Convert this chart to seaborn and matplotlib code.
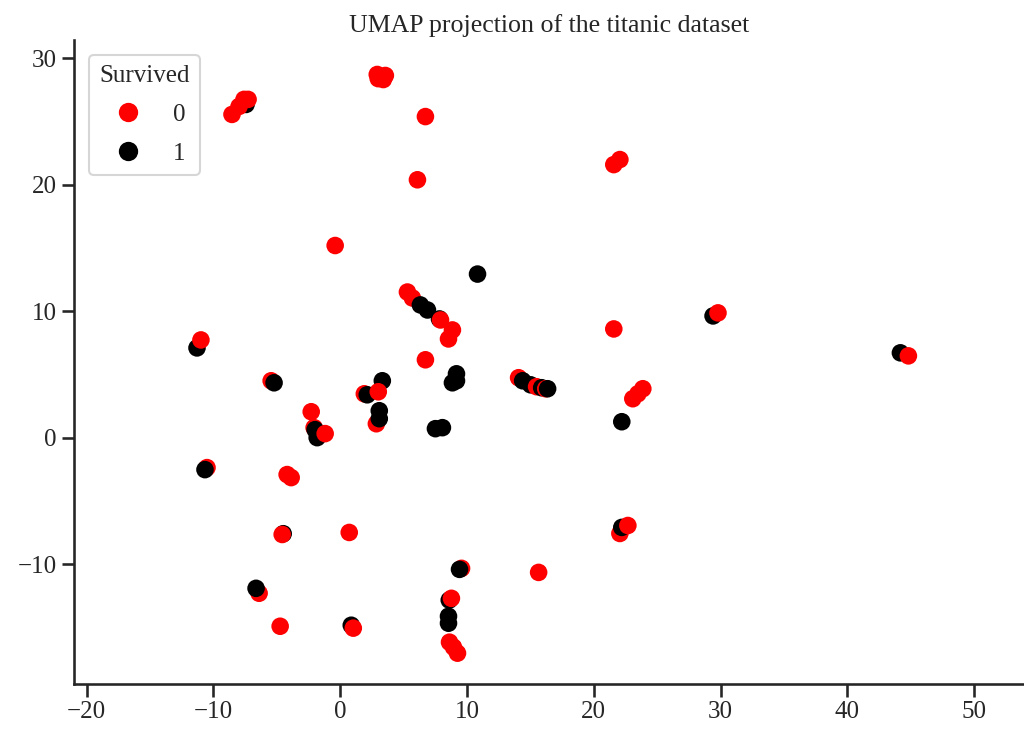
import pandas as pd
import matplotlib.pyplot as plt
import seaborn as sns

sns.set_theme(style='ticks', context='talk')
plt.rcParams['font.family'] = ['Liberation Serif', 'DejaVu Serif']

# =====================================================
# DATA
# =====================================================
umap_x = [
    -8.54, -7.43, -7.98, -7.59, -7.27,
    2.92, 3.56, 3.40, 3.00,
    6.72, 6.09, 21.58, 22.06, -0.40, 10.83,
    5.30, 5.69, 6.32, 6.88, 7.83, 7.91, 8.85, 8.54, 6.72,
    9.17, 8.85, 9.17, 8.06, 7.51,
    14.07, 14.39, 15.02, 15.49, 15.89, 16.21, 16.36,
    21.58, 23.87, 23.48, 23.08, 22.21,
    29.41, 29.80, 44.19, 44.82,
    -11.30, -10.99, -5.45, -5.22,
    -2.29, -2.06, -1.98, -1.82, -1.19,
    1.90, 2.13, 3.32, 3.00, 2.85, 3.08, 3.08,
    -10.51, -10.67, -3.87, -4.19,
    -4.50, -4.58, 0.71,
    -6.40, -6.64, -4.74,
    0.87, 1.03,
    9.57, 9.41, 15.65,
    8.60, 8.77, 8.54, 8.54,
    8.62, 8.93, 9.25,
    22.06, 22.21, 22.69,
]
umap_y = [
    25.57, 26.36, 26.20, 26.76, 26.76,
    28.73, 28.65, 28.33, 28.40,
    25.40, 20.40, 21.60, 22.00, 15.20, 12.94,
    11.52, 11.05, 10.50, 10.10, 9.39, 9.31, 8.52, 7.81, 6.16,
    5.05, 4.34, 4.50, 0.79, 0.71,
    4.74, 4.50, 4.18, 4.03, 3.95, 3.87, 3.87,
    8.60, 3.87, 3.47, 3.08, 1.26,
    9.63, 9.87, 6.71, 6.47,
    7.10, 7.73, 4.50, 4.34,
    2.05, 0.79, 0.63, 0.00, 0.32,
    3.47, 3.39, 4.50, 3.63, 1.10, 2.13, 1.50,
    -2.37, -2.53, -3.16, -2.92,
    -7.60, -7.66, -7.50,
    -12.31, -11.92, -14.92,
    -14.84, -15.07,
    -10.34, -10.42, -10.66,
    -12.85, -12.71, -14.13, -14.68,
    -16.18, -16.57, -17.05,
    -7.58, -7.10, -6.95,
]
survived = [
    0, 1, 0, 0, 0,
    0, 0, 0, 0,
    0, 0, 0, 0, 0, 1,
    0, 0, 1, 1, 1, 0, 0, 0, 0,
    1, 1, 1, 1, 1,
    0, 1, 1, 0, 1, 0, 1,
    0, 0, 0, 0, 1,
    1, 0, 1, 0,
    1, 0, 0, 1,
    0, 0, 1, 1, 0,
    0, 1, 1, 0, 0, 1, 1,
    0, 1, 0, 0,
    1, 0, 0,
    0, 1, 0,
    1, 0,
    0, 1, 0,
    1, 0, 1, 1,
    0, 0, 0,
    0, 1, 0,
]

umap_df = pd.DataFrame({'x': umap_x, 'y': umap_y, 'Survived': survived})

# =====================================================
# CHART
# =====================================================
fig, ax = plt.subplots(figsize=(10.24, 7.29), dpi=100)
fig.subplots_adjust(left=0.0723, right=1.0, bottom=0.0617, top=0.945)

sns.scatterplot(ax=ax, data=umap_df, x='x', y='y', hue='Survived',
                palette={0: 'red', 1: 'black'}, s=160, linewidth=0)

ax.set(xlim=(-21.0, 53.94), ylim=(-19.49, 31.45), xlabel='', ylabel='')
ax.set_title('UMAP projection of the titanic dataset', fontsize=18.6)
ax.tick_params(labelsize=18)
leg = ax.legend(title='Survived', loc='upper left', fontsize=18,
                title_fontsize=18, markerscale=1.1, labelspacing=0.65,
                borderaxespad=0.6)
sns.despine(ax=ax)

fig.savefig('out.png', dpi=100)
plt.close()
